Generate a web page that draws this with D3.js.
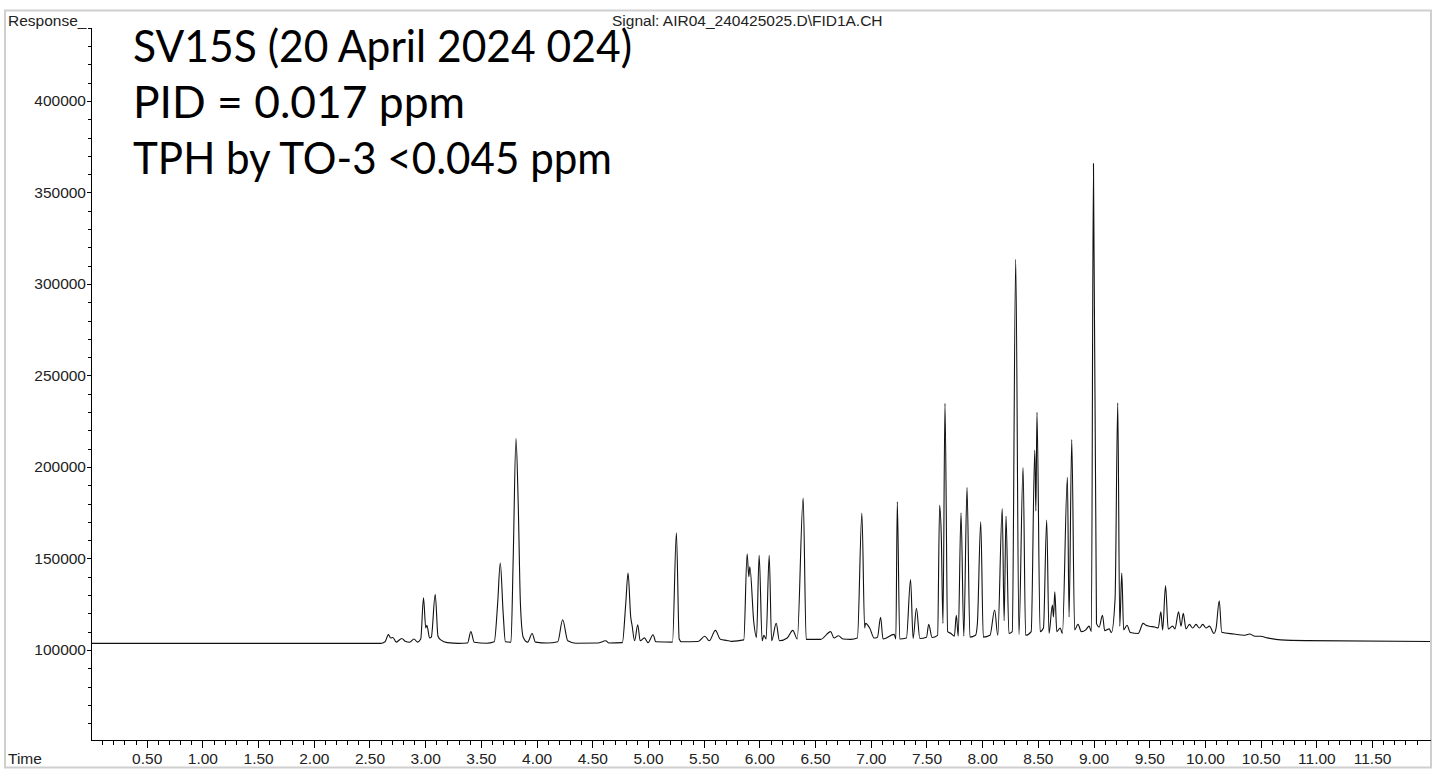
<!DOCTYPE html>
<html>
<head>
<meta charset="utf-8">
<script src="https://cdn.jsdelivr.net/npm/d3@7"></script>
<style>
    body { margin: 0; background: #fff; }
    .axis text { font-family: "Liberation Sans", Arial, sans-serif; font-size: 15.5px; fill: #222; }
    .axis path, .axis line { stroke: #000; shape-rendering: crispEdges; }
</style>
</head>
<body>
<div class="chrom-vis"></div>
<script>
// retention time (min) / detector response: baseline, valleys and apexes
var signal = [
    [0.00, 103600], [2.60, 103600], [2.64, 104500], [2.67, 108400], [2.69, 106500], [2.71, 106800],
    [2.74, 104300], [2.79, 106300], [2.82, 104800], [2.86, 104200], [2.90, 106000], [2.93, 104300],
    [2.96, 106000], [2.985, 128500], [3.005, 112000], [3.015, 113500], [3.04, 106500], [3.055, 107000],
    [3.09, 130300], [3.115, 107500], [3.14, 105500], [3.20, 104000], [3.30, 103600], [3.38, 103800],
    [3.41, 110000], [3.44, 104200], [3.55, 103700], [3.62, 104500], [3.65, 125000], [3.674, 147500],
    [3.70, 120000], [3.72, 104500], [3.77, 104200], [3.79, 150000], [3.815, 215500], [3.835, 180000],
    [3.855, 125000], [3.88, 107000], [3.92, 104300], [3.96, 109000], [3.99, 104300], [4.10, 103800],
    [4.19, 104500], [4.234, 116500], [4.28, 105000], [4.35, 103700], [4.55, 103800], [4.62, 105000],
    [4.65, 103800], [4.77, 104000], [4.80, 125000], [4.821, 142000], [4.845, 118000], [4.857, 113500],
    [4.88, 105000], [4.908, 113800], [4.93, 105000], [4.968, 106600], [5.00, 104000], [5.046, 108300],
    [5.07, 104500], [5.22, 104300], [5.255, 164000], [5.28, 106000], [5.30, 104500], [5.45, 104600],
    [5.51, 107500], [5.55, 105000], [5.605, 110700], [5.65, 105800], [5.71, 105200], [5.75, 104700],
    [5.86, 105500], [5.89, 152500], [5.905, 140000], [5.914, 145500], [5.95, 115000], [5.974, 106800],
    [5.998, 151700], [6.025, 105000], [6.04, 108000], [6.06, 106000], [6.088, 151700], [6.11, 105000],
    [6.151, 114500], [6.18, 105000], [6.25, 106500], [6.30, 110700], [6.34, 106000], [6.393, 183000],
    [6.42, 105800], [6.55, 105800], [6.64, 110000], [6.67, 106500], [6.71, 107800], [6.75, 106000],
    [6.82, 105800], [6.88, 106500], [6.92, 174800], [6.945, 112000], [6.953, 114500], [6.99, 112000],
    [7.03, 106500], [7.06, 107000], [7.088, 117800], [7.11, 106000], [7.21, 108500], [7.225, 106000],
    [7.238, 181000], [7.26, 106000], [7.32, 106500], [7.357, 138500], [7.38, 106300], [7.41, 122800],
    [7.44, 106300], [7.50, 107000], [7.52, 114000], [7.55, 106800], [7.60, 108000], [7.618, 179000],
    [7.633, 162000], [7.648, 114500], [7.666, 234700], [7.69, 110000], [7.72, 109000], [7.75, 107500],
    [7.768, 119000], [7.785, 107500], [7.81, 175000], [7.835, 107500], [7.864, 188800], [7.89, 107000],
    [7.94, 108000], [7.957, 114500], [7.987, 170000], [8.01, 107000], [8.07, 108000], [8.112, 121800],
    [8.14, 108000], [8.18, 177300], [8.197, 116000], [8.214, 173200], [8.24, 109000], [8.27, 110000],
    [8.301, 313400], [8.33, 108500], [8.367, 199700], [8.39, 108000], [8.44, 110000], [8.472, 209200],
    [8.482, 176000], [8.492, 229800], [8.52, 110000], [8.55, 112000], [8.579, 171000], [8.60, 109000],
    [8.63, 124500], [8.64, 118000], [8.652, 131800], [8.67, 110000], [8.70, 112000], [8.72, 109000],
    [8.765, 194300], [8.78, 118000], [8.804, 215000], [8.83, 111000], [8.86, 114000], [8.89, 110000],
    [8.93, 111000], [8.96, 113000], [8.98, 110000], [8.999, 365800], [9.026, 114500], [9.05, 112500],
    [9.08, 119000], [9.10, 110500], [9.14, 111500], [9.16, 109500], [9.193, 128000], [9.217, 235000],
    [9.235, 113000], [9.253, 142000], [9.27, 111000], [9.30, 113500], [9.33, 109500], [9.40, 109000],
    [9.445, 114500], [9.47, 113500], [9.50, 113000], [9.55, 112500], [9.58, 112000], [9.604, 120800],
    [9.62, 111000], [9.646, 135000], [9.67, 111500], [9.71, 113000], [9.73, 111500], [9.763, 120800],
    [9.785, 113000], [9.805, 120000], [9.83, 111500], [9.86, 114000], [9.89, 112000], [9.92, 114000],
    [9.95, 112000], [9.98, 114000], [10.01, 112000], [10.04, 113000], [10.08, 109000], [10.10, 112000],
    [10.128, 126800], [10.15, 109700], [10.26, 108700], [10.35, 108000], [10.40, 108700], [10.45, 107500],
    [10.50, 107500], [10.56, 106600], [10.68, 105500], [10.92, 105100], [12.02, 104600]
];

var timeTicks = [0.5, 1, 1.5, 2, 2.5, 3, 3.5, 4, 4.5, 5, 5.5, 6, 6.5, 7, 7.5, 8, 8.5, 9, 9.5, 10, 10.5, 11, 11.5];
var responseTicks = [100000, 150000, 200000, 250000, 300000, 350000, 400000];
var titleLines = ["SV15S (20 April 2024 024)", "PID = 0.017 ppm", "TPH by TO-3 <0.045 ppm"];
var signalName = "Signal: AIR04_240425025.D\\FID1A.CH";

function plotChromatogram(data) {

    var width = 1432,
        height = 769;

    var x = d3.scaleLinear()
        .domain([0, 12.02])
        .range([91, 1430]);

    var y = d3.scaleLinear()
        .domain([50800, 440400])
        .range([740, 27]);

    var svg = d3.select('.chrom-vis').append("svg")
        .attr("width", width)
        .attr("height", height);

    // grey frame round the plot
    svg.append("rect")
        .attr("x", 5)
        .attr("y", 10.5)
        .attr("width", 1426)
        .attr("height", 757)
        .attr("fill", "none")
        .attr("stroke", "#cfcfcf")
        .attr("stroke-width", 2);

    // minor ticks first, then labelled ones
    var minorTimes = d3.range(1, 121).map(function (i) { return i / 10; })
        .filter(function (t) { return Math.round(t * 10) % 5 != 0; });
    svg.append("g")
        .attr("class", "axis")
        .attr("transform", "translate(0,740)")
        .call(d3.axisBottom(x).tickValues(minorTimes).tickSize(5).tickSizeOuter(0).tickFormat(""));

    svg.append("g")
        .attr("class", "axis")
        .attr("transform", "translate(0,740)")
        .call(d3.axisBottom(x).tickValues(timeTicks).tickSize(8).tickPadding(5).tickSizeOuter(0)
            .tickFormat(d3.format(".2f")));

    var minorResp = d3.range(60000, 441000, 10000)
        .filter(function (v) { return v % 50000 != 0; });
    svg.append("g")
        .attr("class", "axis")
        .attr("transform", "translate(91,0)")
        .call(d3.axisLeft(y).tickValues(minorResp).tickSize(3).tickSizeOuter(0).tickFormat(""));

    svg.append("g")
        .attr("class", "axis")
        .attr("transform", "translate(91,0)")
        .call(d3.axisLeft(y).tickValues(responseTicks).tickSize(4).tickPadding(1).tickSizeOuter(0)
            .tickFormat(d3.format("d")));

    svg.append("text")
        .attr("x", 8)
        .attr("y", 26)
        .style("font-family", "Liberation Sans, Arial, sans-serif")
        .style("font-size", "15.5px")
        .style("fill", "#222")
        .text("Response_");

    svg.append("text")
        .attr("x", 8)
        .attr("y", 764)
        .style("font-family", "Liberation Sans, Arial, sans-serif")
        .style("font-size", "15.5px")
        .style("fill", "#222")
        .text("Time");

    svg.append("text")
        .attr("x", 612)
        .attr("y", 26)
        .style("font-family", "Liberation Sans, Arial, sans-serif")
        .style("font-size", "15.5px")
        .style("fill", "#222")
        .text(signalName);

    // the trace
    var line = d3.line()
        .curve(d3.curveMonotoneX)
        .x(function (d) { return x(d[0]); })
        .y(function (d) { return y(d[1]); });

    svg.append("path")
        .datum(data)
        .attr("d", line)
        .attr("fill", "none")
        .attr("stroke", "#111")
        .attr("stroke-width", 1.1)
        .attr("stroke-linejoin", "round");

    // annotation text over the plot
    var titleWidths = [499, 332, 479];
    svg.selectAll(".title-line")
        .data(titleLines)
        .enter()
        .append("text")
        .attr("class", "title-line")
        .attr("x", 133)
        .attr("y", function (d, i) { return 62 + i * 56; })
        .attr("textLength", function (d, i) { return titleWidths[i]; })
        .attr("lengthAdjust", "spacingAndGlyphs")
        .style("font-family", "Lato, sans-serif")
        .style("font-size", "45px")
        .style("fill", "#000")
        .text(function (d) { return d; });
}

plotChromatogram(signal);
</script>
</body>
</html>
